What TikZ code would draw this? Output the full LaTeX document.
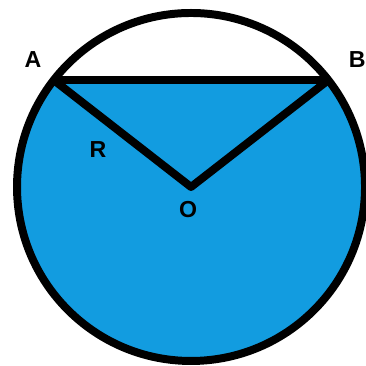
\documentclass[tikz,border=0pt]{standalone}
\usepackage{fontspec}
\setmainfont{Liberation Sans}
\usepackage{tikz}
\usetikzlibrary{calc}
\definecolor{waterblue}{RGB}{18,156,224}

\begin{document}
\begin{tikzpicture}[
    rim/.style={draw=black, line width=6.2pt},
    bar/.style={black, line width=6.2pt, line join=round},
    water/.style={fill=waterblue},
    lbl/.style={font=\fontsize{18}{20}\selectfont\bfseries, inner sep=0pt}
]
\useasboundingbox (0,0) rectangle (10,10);

\coordinate (O) at (5.219,4.891);
\coordinate (A) at ($(O)+(142.1:4.754)$);
\coordinate (B) at ($(O)+(37.9:4.754)$);

% liquid below the chord
\fill[water] (A) arc (142.1:397.9:4.754) -- cycle;

\draw[bar] (A) -- (B);
\draw[bar] (A) -- (O) -- (B);
\draw[rim] (O) circle (4.754);

\node[lbl] (labelA) at (0.902,8.361) {A};
\node[lbl] (labelB) at (9.76,8.361) {B};
\node[lbl] (labelR) at (2.678,5.902) {R};
\node[lbl] (labelO) at (5.137,4.262) {O};

\end{tikzpicture}
\end{document}
